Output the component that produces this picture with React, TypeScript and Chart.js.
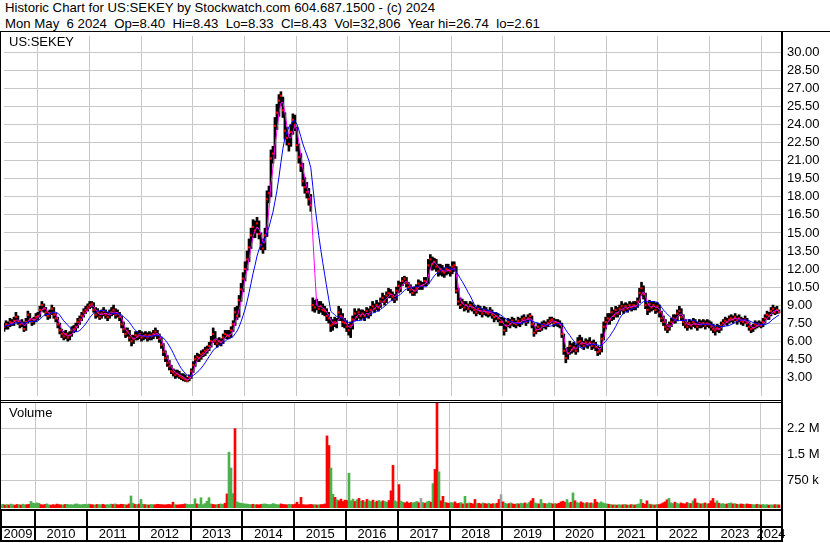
import React, { useEffect, useRef } from "react";
import { Chart, registerables } from "chart.js";

Chart.register(...registerables);

// ---------- text ----------
const headerLine1 = "Historic Chart for US:SEKEY by Stockwatch.com 604.687.1500 - (c) 2024";
const headerLine2 = "Mon May  6 2024  Op=8.40  Hi=8.43  Lo=8.33  Cl=8.43  Vol=32,806  Year hi=26.74  lo=2.61";
const symbolLabel = "US:SEKEY";
const volumeLabel = "Volume";

// ---------- time axis (decimal years) ----------
const xMin = 2009.3443;
const xMax = 2024.3858;
const firstBarYear = 2009.3443;
const barStepYears = 0.038567; // about two weeks per bar

const yearTicks = [2010, 2011, 2012, 2013, 2014, 2015, 2016, 2017, 2018, 2019, 2020, 2021, 2022, 2023, 2024];
const yearLabels = ["2009", "2010", "2011", "2012", "2013", "2014", "2015", "2016", "2017", "2018", "2019", "2020", "2021", "2022", "2023", "2024"];

// ---------- price data (bi-weekly bars) ----------
const closes = [
  // 2009
  7.2, 7.4, 7.3, 7.6, 7.5, 7.7, 8.0, 7.6, 7.4, 7.5, 7.0, 7.6, 8.2, 7.8, 7.6, 7.8, 8.0, 8.1,
  // 2010
  8.6, 9.0, 8.7, 8.4, 8.1, 8.3, 8.7, 8.2, 7.9, 7.4, 6.9, 6.6, 6.4, 6.6, 6.3, 6.5, 6.9, 7.0, 7.2, 7.6, 7.8, 8.1, 8.4, 8.6, 8.8, 9.0,
  // 2011
  9.1, 8.6, 8.2, 8.4, 8.0, 8.3, 8.5, 8.2, 8.0, 8.3, 8.4, 8.6, 8.2, 8.3, 8.0, 7.4, 7.0, 6.6, 6.8, 6.3, 6.0, 6.2, 6.5, 6.4, 6.6, 6.3,
  // 2012
  6.4, 6.5, 6.3, 6.5, 6.4, 6.6, 6.8, 6.5, 6.2, 5.7, 5.1, 4.6, 4.2, 3.9, 3.5, 3.4, 3.2, 3.3, 3.1, 3.0, 2.9, 2.8, 2.7, 3.0, 3.5, 4.0,
  // 2013
  4.5, 4.7, 4.6, 4.9, 5.0, 5.2, 5.3, 5.6, 6.0, 6.6, 6.0, 5.8, 6.0, 5.9, 6.3, 6.6, 6.5, 6.4, 6.9, 7.4, 8.4, 8.1, 9.4, 10.3, 11.2, 12.0,
  // 2014
  12.8, 13.8, 14.8, 15.5, 15.2, 15.8, 14.9, 14.0, 13.7, 14.8, 17.8, 18.3, 21.2, 21.6, 23.9, 25.0, 26.0, 26.4, 25.2, 23.5, 22.9, 22.4, 23.4, 24.4, 24.0, 22.3,
  // 2015
  21.3, 20.6, 19.3, 18.8, 18.4, 17.8, 17.3, 9.0, 8.8, 9.1, 8.7, 8.9, 8.6, 8.5, 8.1, 7.9, 7.3, 7.4, 7.6, 7.5, 8.4, 8.1, 7.6, 7.5, 7.2, 6.9,
  // 2016
  7.3, 7.8, 8.3, 8.0, 8.4, 8.1, 8.3, 8.1, 8.5, 8.2, 8.6, 8.9, 8.7, 9.0, 8.8, 9.3, 9.6, 9.3, 9.8, 10.0, 9.9, 9.7, 9.5, 10.2, 10.6, 10.4,
  // 2017
  11.0, 11.2, 10.8, 10.5, 10.3, 10.0, 10.2, 10.4, 10.8, 10.6, 10.6, 11.0, 10.9, 12.3, 12.8, 12.4, 12.6, 12.2, 11.8, 12.0, 11.8, 11.7, 12.0, 11.9, 11.8, 12.2,
  // 2018
  12.3, 10.2, 9.3, 9.0, 9.2, 8.8, 9.0, 8.7, 9.0, 8.8, 8.6, 8.4, 8.7, 8.5, 8.3, 8.6, 8.4, 8.3, 8.5, 8.2, 8.0, 8.1, 7.9, 7.6, 7.6, 6.9,
  // 2019
  7.3, 7.6, 7.4, 7.7, 7.5, 7.4, 7.7, 7.5, 7.8, 7.9, 7.6, 7.9, 8.1, 7.4, 6.7, 6.9, 7.2, 7.0, 7.3, 7.4, 7.3, 7.5, 7.7, 7.8, 7.5, 7.6,
  // 2020
  7.5, 7.4, 6.6, 5.2, 4.6, 5.0, 5.6, 5.3, 5.5, 5.2, 5.9, 6.0, 5.8, 5.6, 5.9, 5.7, 5.9, 5.6, 5.8, 5.5, 5.1, 5.2, 6.2, 7.2, 7.6, 7.9,
  // 2021
  7.8, 8.4, 8.1, 8.6, 8.3, 8.7, 8.9, 8.6, 8.9, 8.7, 9.0, 8.8, 9.0, 8.9, 9.3, 10.0, 10.4, 9.9, 9.0, 8.6, 9.1, 8.8, 9.0, 8.6, 8.9, 8.4,
  // 2022
  7.9, 7.6, 7.2, 7.0, 7.3, 7.6, 7.9, 7.8, 8.3, 8.5, 8.0, 7.6, 7.4, 7.2, 7.5, 7.3, 7.6, 7.4, 7.2, 7.5, 7.4, 7.5, 7.3, 7.5, 7.4, 7.2,
  // 2023
  7.0, 6.9, 7.1, 7.0, 7.3, 7.5, 7.7, 7.6, 7.8, 7.9, 7.8, 8.0, 7.7, 7.9, 7.7, 7.6, 7.8, 7.5, 7.2, 7.0, 7.1, 7.4, 7.3, 7.4, 7.3, 7.6,
  // 2024
  7.9, 8.2, 8.1, 8.5, 8.7, 8.4, 8.6, 8.43,
];

const highs = [
  7.5, 7.7, 7.6, 7.9, 7.8, 8.0, 8.4, 8.1, 7.7, 7.8, 7.6, 7.9, 8.5, 8.3, 7.9, 8.0, 8.3, 8.4,
  8.9, 9.3, 9.1, 8.8, 8.5, 8.6, 9.0, 8.8, 8.3, 8.0, 7.5, 7.0, 6.8, 6.9, 6.7, 6.8, 7.2, 7.3, 7.5, 7.9, 8.1, 8.4, 8.7, 8.9, 9.1, 9.3,
  9.3, 9.2, 8.8, 8.7, 8.5, 8.6, 8.8, 8.6, 8.4, 8.6, 8.8, 9.0, 8.7, 8.6, 8.4, 8.1, 7.6, 7.1, 7.1, 6.9, 6.5, 6.5, 6.8, 6.8, 6.9, 6.8,
  6.7, 6.8, 6.7, 6.8, 6.7, 6.9, 7.1, 6.9, 6.6, 6.3, 5.8, 5.2, 4.8, 4.4, 4.0, 3.7, 3.6, 3.6, 3.5, 3.3, 3.3, 3.2, 3.0, 3.2, 3.7, 4.3,
  4.8, 5.0, 4.9, 5.2, 5.3, 5.5, 5.6, 5.9, 6.4, 7.1, 6.8, 6.2, 6.3, 6.2, 6.6, 6.9, 6.9, 6.9, 7.2, 7.7, 8.8, 8.9, 9.8, 10.8, 11.7, 12.6,
  13.5, 14.5, 15.4, 16.1, 16.0, 16.3, 16.0, 15.0, 14.5, 15.4, 18.5, 18.9, 21.9, 22.2, 24.6, 25.7, 26.5, 26.74, 26.3, 25.0, 23.8, 23.2, 24.0, 24.9, 24.8, 23.8,
  22.4, 21.6, 20.8, 19.6, 19.2, 18.7, 18.2, 9.6, 9.4, 9.5, 9.3, 9.3, 9.1, 8.9, 8.7, 8.4, 8.0, 7.8, 8.0, 7.9, 8.9, 8.7, 8.3, 7.9, 7.7, 7.4,
  7.6, 8.1, 8.7, 8.5, 8.7, 8.6, 8.6, 8.5, 8.8, 8.7, 8.9, 9.3, 9.1, 9.4, 9.2, 9.6, 10.0, 9.8, 10.1, 10.4, 10.3, 10.1, 9.9, 10.5, 11.0, 10.9,
  11.3, 11.4, 11.3, 10.9, 10.7, 10.5, 10.5, 10.7, 11.1, 11.0, 10.9, 11.3, 11.3, 12.8, 13.2, 13.0, 12.9, 12.8, 12.4, 12.4, 12.3, 12.1, 12.4, 12.4, 12.2, 12.6,
  12.6, 12.2, 10.4, 9.6, 9.5, 9.3, 9.3, 9.1, 9.3, 9.2, 9.0, 8.8, 9.0, 8.9, 8.7, 8.9, 8.8, 8.6, 8.8, 8.6, 8.4, 8.4, 8.3, 8.0, 8.0, 7.9,
  7.6, 7.9, 7.8, 8.0, 7.9, 7.7, 8.0, 7.9, 8.1, 8.2, 8.0, 8.2, 8.3, 8.1, 7.5, 7.2, 7.5, 7.4, 7.6, 7.7, 7.6, 7.8, 8.0, 8.0, 7.9, 7.8,
  7.8, 7.7, 7.5, 6.6, 5.4, 5.5, 6.0, 5.8, 5.9, 5.7, 6.3, 6.5, 6.3, 6.0, 6.2, 6.1, 6.3, 6.0, 6.1, 5.9, 5.6, 5.5, 6.6, 7.6, 8.0, 8.3,
  8.3, 8.8, 8.6, 8.9, 8.8, 9.0, 9.3, 9.1, 9.2, 9.1, 9.3, 9.2, 9.3, 9.3, 9.6, 10.4, 10.9, 10.6, 10.0, 9.2, 9.4, 9.3, 9.3, 9.2, 9.2, 9.0,
  8.5, 8.1, 7.8, 7.4, 7.6, 7.9, 8.2, 8.2, 8.6, 8.9, 8.7, 8.2, 7.8, 7.6, 7.8, 7.7, 7.9, 7.8, 7.6, 7.8, 7.7, 7.8, 7.7, 7.8, 7.7, 7.6,
  7.4, 7.2, 7.4, 7.3, 7.6, 7.8, 8.0, 7.9, 8.1, 8.2, 8.1, 8.3, 8.1, 8.2, 8.0, 7.9, 8.1, 7.9, 7.6, 7.3, 7.4, 7.7, 7.6, 7.7, 7.6, 7.9,
  8.2, 8.5, 8.4, 8.8, 9.0, 8.8, 8.9, 8.6,
];

const lows = [
  6.8, 7.0, 7.0, 7.2, 7.3, 7.3, 7.6, 7.4, 7.1, 7.2, 6.8, 6.9, 7.5, 7.6, 7.3, 7.4, 7.6, 7.8,
  8.0, 8.5, 8.4, 8.1, 7.8, 7.9, 8.2, 7.9, 7.6, 7.1, 6.6, 6.3, 6.1, 6.2, 6.0, 6.1, 6.4, 6.7, 6.8, 7.1, 7.4, 7.7, 8.0, 8.3, 8.5, 8.7,
  8.8, 8.4, 7.9, 8.0, 7.8, 7.9, 8.1, 7.9, 7.7, 7.9, 8.1, 8.2, 7.9, 8.0, 7.7, 7.1, 6.7, 6.3, 6.4, 6.0, 5.6, 5.8, 6.1, 6.1, 6.2, 6.0,
  6.1, 6.2, 6.0, 6.1, 6.1, 6.2, 6.4, 6.2, 5.9, 5.4, 4.8, 4.3, 3.9, 3.6, 3.3, 3.1, 2.9, 3.0, 2.9, 2.8, 2.7, 2.65, 2.61, 2.7, 2.9, 3.4,
  3.9, 4.3, 4.3, 4.5, 4.7, 4.8, 5.0, 5.2, 5.5, 5.9, 5.7, 5.5, 5.7, 5.6, 5.8, 6.2, 6.2, 6.2, 6.3, 6.8, 7.3, 7.8, 8.0, 9.3, 10.1, 11.0,
  11.9, 12.6, 13.7, 14.6, 14.6, 15.0, 14.5, 13.6, 13.3, 13.6, 14.7, 17.5, 18.0, 20.8, 21.2, 23.6, 24.7, 25.6, 24.6, 22.8, 22.3, 21.8, 22.2, 23.2, 23.5, 21.8,
  20.8, 20.1, 18.9, 18.3, 17.9, 17.3, 16.8, 8.5, 8.4, 8.6, 8.3, 8.4, 8.2, 8.1, 7.7, 7.5, 6.8, 6.9, 7.2, 7.1, 7.7, 7.7, 7.2, 7.1, 6.8, 6.5,
  6.3, 7.0, 7.7, 7.7, 7.9, 7.8, 7.9, 7.7, 8.0, 7.9, 8.1, 8.5, 8.4, 8.6, 8.5, 8.8, 9.2, 9.0, 9.2, 9.6, 9.6, 9.4, 9.2, 9.4, 10.0, 10.1,
  10.6, 10.8, 10.5, 10.2, 10.0, 9.8, 9.8, 10.0, 10.3, 10.3, 10.3, 10.6, 10.6, 10.8, 12.0, 11.9, 12.0, 11.8, 11.4, 11.5, 11.4, 11.3, 11.5, 11.6, 11.4, 11.6,
  11.8, 10.0, 9.0, 8.7, 8.8, 8.5, 8.6, 8.4, 8.6, 8.5, 8.3, 8.1, 8.3, 8.2, 8.0, 8.2, 8.1, 8.0, 8.1, 7.9, 7.6, 7.8, 7.6, 7.3, 7.3, 6.5,
  6.8, 7.2, 7.1, 7.3, 7.2, 7.1, 7.3, 7.2, 7.4, 7.6, 7.3, 7.5, 7.8, 7.1, 6.4, 6.6, 6.8, 6.8, 6.9, 7.1, 7.0, 7.2, 7.4, 7.5, 7.2, 7.3,
  7.2, 7.1, 6.3, 4.9, 4.2, 4.5, 4.9, 5.0, 5.1, 4.9, 5.1, 5.6, 5.5, 5.3, 5.5, 5.4, 5.6, 5.3, 5.4, 5.2, 4.8, 4.9, 5.1, 6.1, 7.0, 7.4,
  7.4, 7.7, 7.8, 8.0, 8.0, 8.2, 8.5, 8.3, 8.5, 8.4, 8.6, 8.5, 8.6, 8.6, 8.8, 9.2, 9.8, 9.5, 8.7, 8.2, 8.4, 8.5, 8.6, 8.3, 8.4, 8.0,
  7.6, 7.3, 6.9, 6.7, 6.9, 7.2, 7.5, 7.5, 7.7, 8.1, 7.7, 7.3, 7.1, 6.9, 7.1, 7.0, 7.2, 7.1, 6.9, 7.1, 7.1, 7.2, 7.0, 7.2, 7.1, 6.9,
  6.7, 6.5, 6.8, 6.7, 6.9, 7.2, 7.4, 7.3, 7.5, 7.6, 7.5, 7.7, 7.4, 7.6, 7.4, 7.3, 7.5, 7.2, 6.9, 6.7, 6.8, 7.0, 7.1, 7.2, 7.1, 7.2,
  7.5, 7.8, 7.8, 8.1, 8.3, 8.2, 8.3, 8.33,
];

// volume per bar, in thousands of shares
const volumesK = [
  35, 50, 28, 42, 30, 55, 38, 25, 45, 40, 30, 52, 36, 40, 48, 130, 85, 70,
  90, 75, 40, 30, 45, 60, 35, 25, 40, 30, 55, 40, 35, 30, 45, 50, 35, 40, 30, 55, 60, 40, 35, 45, 50, 40,
  55, 40, 35, 30, 45, 40, 35, 50, 30, 40, 35, 55, 45, 60, 40, 35, 50, 45, 40, 30, 60, 290, 80, 45, 40, 55,
  190, 50, 40, 35, 30, 45, 40, 35, 50, 45, 40, 35, 30, 40, 45, 35, 110, 40, 30, 35, 40, 45, 60, 50, 40, 45,
  50, 210, 60, 45, 240, 40, 70, 140, 240, 60, 45, 35, 40, 50, 60, 45, 80, 350, 1560, 1100, 360, 2240, 120, 90, 80, 70,
  60, 55, 45, 40, 50, 35, 40, 30, 45, 55, 60, 50, 40, 45, 70, 55, 40, 35, 60, 45, 40, 35, 50, 45, 40, 55,
  110, 45, 250, 40, 35, 30, 40, 45, 35, 40, 30, 35, 40, 45, 60, 2030, 1750, 1100, 340, 250, 180, 150, 200, 130, 170, 160,
  950, 150, 200, 130, 180, 220, 140, 160, 120, 190, 150, 130, 170, 110, 140, 160, 120, 150, 130, 110, 160, 440, 1180, 150, 120, 620,
  140, 110, 90, 120, 80, 100, 90, 110, 130, 95, 220, 100, 80, 120, 140, 110, 650, 1060, 3100, 990, 150, 280, 110, 90, 80, 100,
  90, 120, 70, 80, 100, 60, 280, 70, 90, 80, 60, 190, 70, 80, 60, 90, 70, 60, 80, 50, 70, 60, 80, 190, 330, 120,
  80, 60, 70, 90, 60, 50, 70, 60, 80, 70, 90, 60, 100, 150, 220, 90, 70, 60, 190, 80, 70, 60, 90, 80, 60, 70,
  60, 80, 120, 140, 110, 190, 90, 110, 380, 150, 100, 80, 120, 90, 70, 100, 80, 90, 70, 190, 110, 80, 120, 90, 70, 60,
  50, 40, 30, 35, 25, 40, 30, 35, 45, 30, 25, 40, 35, 30, 45, 60, 190, 80, 50, 150, 60, 40, 35, 30, 45, 40,
  60, 90, 120, 180, 220, 90, 70, 110, 80, 60, 90, 70, 60, 100, 80, 70, 150, 210, 90, 80, 60, 70, 90, 60, 70, 150,
  220, 90, 150, 80, 60, 70, 50, 60, 80, 90, 60, 70, 50, 40, 60, 50, 40, 60, 50, 45, 40, 35, 50, 40, 30, 45,
  30, 40, 25, 35, 30, 40, 35, 33,
];

// ---------- axis ticks ----------
const priceTicks = [3, 4.5, 6, 7.5, 9, 10.5, 12, 13.5, 15, 16.5, 18, 19.5, 21, 22.5, 24, 25.5, 27, 28.5, 30];
const priceMin = 1.44;
const priceMax = 31.375;
const volumeTicks = [750000, 1500000, 2250000];
const volumeTickLabels = ["750 k", "1.5 M", "2.2 M"];
const volumeMin = -58000;
const volumeMax = 2983000;

const shortMaBars = 3;
const longMaBars = 10;

// ---------- styling ----------
const FONT = "'Liberation Sans', Arial, Helvetica, sans-serif";
const GRID = "#c8c8c8";

function movingAverage(values: number[], n: number): number[] {
  return values.map((_, i) => {
    const s = Math.max(0, i - n + 1);
    let sum = 0;
    for (let k = s; k <= i; k++) sum += values[k];
    return sum / (i - s + 1);
  });
}

const noPad = (s: any) => {
  s.paddingTop = 0;
  s.paddingBottom = 0;
  s.paddingLeft = 0;
  s.paddingRight = 0;
};

export default function App() {
  const priceRef = useRef<HTMLCanvasElement | null>(null);
  const volRef = useRef<HTMLCanvasElement | null>(null);

  useEffect(() => {
    const n = Math.min(closes.length, highs.length, lows.length, volumesK.length);
    const xs: number[] = [];
    for (let i = 0; i < n; i++) xs.push(firstBarYear + i * barStepYears);
    const dir = xs.map((_, i) => (i === 0 ? 1 : Math.sign(closes[i] - closes[i - 1])));
    const maShort = movingAverage(closes.slice(0, n), shortMaBars);
    const maLong = movingAverage(closes.slice(0, n), longMaBars);

    const makeX = (): any => ({
      type: "linear",
      min: xMin,
      max: xMax,
      offset: false,
      afterBuildTicks: (s: any) => {
        s.ticks = yearTicks.map((v) => ({ value: v }));
      },
      afterFit: (s: any) => {
        s.height = 0;
        noPad(s);
      },
      ticks: { display: false },
      grid: { color: GRID, lineWidth: 1, drawTicks: false, offset: false },
      border: { display: false },
    });

    const priceChart = new Chart(priceRef.current as HTMLCanvasElement, {
      type: "bar",
      data: {
        datasets: [
          {
            type: "line",
            data: maShort.map((v, i) => ({ x: xs[i], y: v })),
            borderColor: "#ff00ff",
            borderWidth: 1,
            pointRadius: 0,
            tension: 0,
            order: 2,
          } as any,
          {
            type: "line",
            data: maLong.map((v, i) => ({ x: xs[i], y: v })),
            borderColor: "#0000ff",
            borderWidth: 1,
            pointRadius: 0,
            tension: 0,
            order: 1,
          } as any,
          {
            type: "scatter",
            data: xs.map((x, i) => ({ x, y: closes[i] })),
            pointStyle: "rect",
            pointRadius: 1.5,
            pointBackgroundColor: "#ff0000",
            pointBorderWidth: 0,
            showLine: false,
            order: 3,
          } as any,
          {
            type: "bar",
            data: xs.map((x, i) => ({ x, y: [lows[i], highs[i]] })),
            backgroundColor: "#000000",
            barThickness: 2,
            grouped: false,
            order: 4,
          } as any,
        ],
      },
      options: {
        responsive: false,
        animation: false,
        devicePixelRatio: 1,
        layout: { padding: { left: 1, right: 0, top: 0, bottom: 0 } },
        plugins: { legend: { display: false }, tooltip: { enabled: false } },
        scales: {
          x: makeX(),
          y: {
            position: "right",
            min: priceMin,
            max: priceMax,
            afterBuildTicks: (s: any) => {
              s.ticks = priceTicks.map((v) => ({ value: v }));
            },
            afterFit: (s: any) => {
              s.width = 49;
              noPad(s);
            },
            ticks: {
              callback: (v: any) => Number(v).toFixed(2),
              color: "#000",
              font: { family: FONT, size: 13 },
              padding: 6,
            },
            grid: { color: GRID, lineWidth: 1, drawTicks: false },
            border: { display: false },
          },
        },
      } as any,
    });

    const yearRows = {
      id: "yearRows",
      afterDraw(chart: any) {
        const { ctx, chartArea } = chart;
        const x = chart.scales.x;
        const r1 = chartArea.bottom + 1;
        ctx.save();
        ctx.fillStyle = "#000";
        ctx.fillRect(0, r1, 783, 2);
        ctx.fillRect(0, r1 + 17, 783, 2);
        ctx.fillRect(0, r1 + 31, 783, 2);
        ctx.fillRect(0, r1, 2, 33);
        yearTicks.forEach((yr) => {
          const px = Math.round(x.getPixelForValue(yr));
          ctx.fillRect(px - 1, r1, 2, 33);
        });
        ctx.font = `13px ${FONT}`;
        ctx.textAlign = "center";
        ctx.textBaseline = "middle";
        yearLabels.forEach((lab) => {
          const y0 = Number(lab);
          const a = x.getPixelForValue(Math.max(y0, xMin));
          const b = x.getPixelForValue(Math.min(y0 + 1, xMax));
          ctx.fillText(lab, (a + b) / 2, r1 + 25);
        });
        ctx.restore();
      },
    };

    const volChart = new Chart(volRef.current as HTMLCanvasElement, {
      type: "bar",
      data: {
        datasets: [
          {
            data: xs.map((x, i) => ({ x, y: volumesK[i] * 1000 })),
            backgroundColor: dir.map((d) => (d > 0 ? "#4cb04c" : d < 0 ? "#ff0000" : "#a0a0a0")),
            barThickness: 2,
            grouped: false,
            base: volumeMin,
          } as any,
        ],
      },
      options: {
        responsive: false,
        animation: false,
        devicePixelRatio: 1,
        layout: { padding: { left: 1, right: 0, top: 0, bottom: 35 } },
        plugins: { legend: { display: false }, tooltip: { enabled: false } },
        scales: {
          x: makeX(),
          y: {
            position: "right",
            min: volumeMin,
            max: volumeMax,
            afterBuildTicks: (s: any) => {
              s.ticks = volumeTicks.map((v) => ({ value: v }));
            },
            afterFit: (s: any) => {
              s.width = 49;
              noPad(s);
            },
            ticks: {
              callback: (v: any) => {
                const k = volumeTicks.indexOf(Number(v));
                return k >= 0 ? volumeTickLabels[k] : "";
              },
              color: "#000",
              font: { family: FONT, size: 13 },
              padding: 6,
            },
            grid: { color: GRID, lineWidth: 1, drawTicks: false },
            border: { display: false },
          },
        },
      } as any,
      plugins: [yearRows],
    });

    return () => {
      priceChart.destroy();
      volChart.destroy();
    };
  }, []);

  const text: React.CSSProperties = {
    position: "absolute",
    fontFamily: FONT,
    color: "#000",
    whiteSpace: "pre",
    lineHeight: "15px",
  };
  const line = (l: number, t: number, w: number, h: number): React.CSSProperties => ({
    position: "absolute",
    left: l,
    top: t,
    width: w,
    height: h,
    background: "#000",
  });

  return (
    <div style={{ position: "absolute", left: 0, top: 0, width: 830, height: 543, background: "#fff", overflow: "hidden" }}>
      <div style={{ ...text, left: 5, top: 0, fontSize: 13.2 }}>{headerLine1}</div>
      <div style={{ ...text, left: 5, top: 15.5, fontSize: 13.2 }}>{headerLine2}</div>
      <canvas ref={priceRef} width={830} height={368} style={{ position: "absolute", left: 0, top: 32 }} />
      <canvas ref={volRef} width={830} height={140} style={{ position: "absolute", left: 0, top: 403 }} />
      <div style={line(0, 31, 830, 1)} />
      <div style={line(0, 31, 1, 511)} />
      <div style={line(781, 31, 2, 511)} />
      <div style={line(0, 400, 783, 1)} />
      <div style={line(0, 402, 783, 1)} />
      <div style={{ ...text, left: 9, top: 34, fontSize: 13 }}>{symbolLabel}</div>
      <div style={{ ...text, left: 9, top: 405, fontSize: 13 }}>{volumeLabel}</div>
    </div>
  );
}
